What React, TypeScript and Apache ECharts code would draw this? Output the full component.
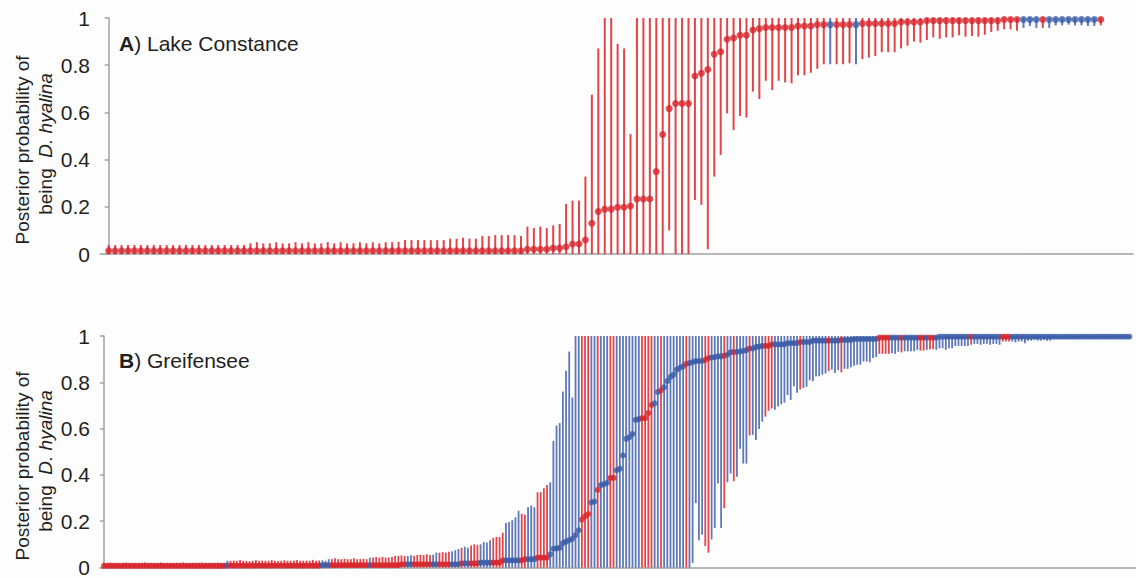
import React, { useEffect, useRef } from 'react';
import * as echarts from 'echarts';

// ---------- Panel A: Lake Constance (155 individuals) ----------
const aVal = [
  .014,.014,.014,.014,.014,.014,.014,.014,.014,.014,
  .014,.014,.014,.014,.014,.014,.014,.014,.014,.014,
  .014,.014,.014,.014,.014,.014,.014,.014,.014,.014,
  .014,.014,.014,.014,.014,.014,.014,.014,.014,.014,
  .014,.014,.014,.014,.014,
  .014,.014,.014,.014,.014,.014,.014,.014,.014,.014,
  .014,.014,.014,.014,.014,.014,.014,.014,.014,.014,
  .02,.02,.02,.02,.025,.025,.031,.042,.042,.059,
  .13,.18,.19,.19,.198,.198,.203,.233,.233,.233,
  .349,.506,.616,.638,.638,.638,.754,.766,.782,.846,
  .857,.91,.915,.927,.927,.949,.955,.96,.96,.96,
  .96,.96,.966,.966,.966,.972,.972,.972,.972,.972,
  .972,.972,.977,.977,.977,.977,.977,.977,.983,.983,
  .983,.983,.989,.989,.989,.989,.989,.989,.989,.989,
  .989,.989,.989,.989,.994,.994,.994,.994,.994,.994,
  .994,.994,.994,.994,.994,.994,.994,.994,.994,.994,
];
const aHigh = [
  .038,.038,.038,.038,.038,.038,.038,.038,.038,.038,
  .038,.038,.038,.038,.038,.038,.038,.038,.038,.038,
  .038,.038,
  .045,.05,.045,.045,.05,.045,.045,.05,.045,.05,
  .045,.045,.05,.045,.05,.045,.045,.05,.045,.05,
  .045,.05,.05,
  .052,.059,.059,.059,.059,.059,.059,.059,.065,.065,
  .069,.065,.065,.076,.076,.08,.08,.08,.08,.076,
  .116,.11,.116,.11,.121,.127,.212,.226,.226,.328,
  .675,.871,1,1,.89,.871,.508,1,1,1,
  1,1,1,1,1,1,1,1,1,1,
  1,1,1,1,1,1,1,1,1,1,
  1,1,1,1,1,1,1,1,1,1,
  1,1,1,1,1,1,1,1,1,1,
  1,1,1,1,1,1,1,1,1,1,
  1,1,1,1,1,1,1,1,1,1,
  1,1,1,1,1,1,1,1,1,1,
];
const aLow = [
  0,0,0,0,0,0,0,0,0,0,0,0,0,0,0,0,0,0,0,0,0,0,0,0,0,0,0,0,0,
  0,0,0,0,0,0,0,0,0,0,0,0,0,0,0,0,0,0,0,0,0,0,0,0,0,0,0,0,0,
  0,0,0,0,0,0,0,0,0,0,0,0,0,0,0,0,0,0,0,0,0,0,0,0,0,0,0,0,0,
  .1,0,0,0,.229,.208,.02,.328,
  .42,.596,.525,.585,.578,.688,.657,.734,.695,.734,
  .727,.723,.757,.757,.768,.785,.804,.804,.804,.804,
  .808,.804,.826,.832,.839,.855,.855,.855,.871,.883,
  .9,.895,.907,.918,.912,.918,.918,.927,.921,.924,
  .921,.929,.941,.946,.952,.952,.946,.958,.966,.958,
  .958,.958,.969,.969,.972,.969,.969,.966,.966,.969,
];
const aBlue = [112, 116, 142, 143, 144, 146, 147, 148, 149, 150, 151, 152, 153];

// ---------- Panel B: Greifensee (325 individuals) ----------
const bVal = [
  .007,.007,.007,.007,.007,.007,.007,.007,.007,.007,
  .007,.007,.007,.007,.007,.007,.007,.007,.007,.007,
  .007,.007,.007,.007,.007,.007,.007,.007,.007,.007,
  .007,.007,.007,.007,.007,.007,.007,.007,.007,
  .008,.008,.008,.008,.008,.008,.008,.008,.008,.008,
  .008,.008,.008,.008,.008,.008,.008,.008,.008,.008,
  .008,.008,.008,.008,.008,.008,.008,.008,.008,.008,
  .01,.01,.01,.01,.01,.01,.01,.01,.01,.01,
  .01,.01,.01,.01,.01,.01,.01,.01,.01,.01,
  .01,.01,.01,.01,.01,
  .014,.014,.014,.014,.014,.014,.014,.014,.014,.014,
  .014,.014,.014,.014,.014,.014,.014,.014,.014,
  .018,.018,.018,.018,.018,.018,
  .021,.021,.021,.021,.021,.021,.021,
  .031,.031,.031,.031,.031,.031,.031,
  .036,.036,.036,.036,
  .043,.043,.043,.043,
  .057,.081,.083,.085,.105,.112,.118,.124,.14,.161,
  .207,.221,.231,.281,.285,.335,.356,.36,.366,.387,
  .387,.42,.427,.484,.556,.563,.577,.638,.641,.645,
  .645,.667,.702,.709,.758,.765,.779,.805,.823,.833,
  .855,.862,.869,.88,.883,.887,.892,.892,.892,.897,
  .905,.907,.909,.912,.912,.915,.919,.93,.93,.932,
  .933,.936,.939,.946,.946,.952,.954,
  .957,.957,.957,
  .964,.964,.964,.964,.964,
  .969,.969,.969,.969,
  .974,.974,.974,.974,
  .98,.98,.98,.98,.98,.98,.98,.98,.98,
  .983,.983,.983,.983,
  .987,.987,.987,.987,.987,.987,.987,.987,
  .993,.993,.993,.993,.993,.993,.993,.993,.993,.993,
  .993,.993,.993,.993,.993,.993,.993,.993,.993,
  .997,.997,.997,.997,.997,.997,.997,.997,.997,.997,
  .997,.997,.997,.997,.997,.997,.997,.997,.997,.997,
  .997,.997,.997,.997,.997,.997,.997,.997,.997,.997,
  .997,.997,.997,.997,.997,.997,.997,.997,.997,.997,
  .997,.997,.997,.997,.997,.997,.997,.997,.997,.997,
  .997,.997,.997,.997,.997,.997,.997,.997,.997,.997,
  .997,
];
const bHigh = [
  .02,.02,.022,.02,.02,.018,.02,.022,.02,.02,
  .02,.02,.02,.022,.02,.02,.02,.02,.022,.02,
  .02,.02,.02,.02,.02,.022,.02,.02,.02,.02,
  .02,.022,.02,.02,.02,.02,.022,.02,.02,
  .029,.029,.03,.029,.032,.029,.029,.027,.029,.032,
  .029,.03,.029,.029,.032,.029,.027,.029,.031,.029,
  .029,.03,.032,.029,.029,.03,.029,.033,.029,.03,.031,.029,
  .036,.036,.04,.036,.036,.038,.036,.036,.04,.036,.036,.038,.036,
  .043,.043,.045,.043,.046,.043,.043,.045,
  .05,.05,.052,.05,.05,.053,.05,
  .054,.055,.054,.057,.054,.055,
  .064,.064,.066,.064,.068,
  .07,.075,.08,.085,.09,.085,.095,.1,.098,
  .1,.11,.108,.118,.128,.132,.132,.15,.192,.197,
  .204,.217,.245,.232,.228,.26,.268,.26,.325,.325,
  .342,.356,.368,.547,.613,.624,.76,.85,.933,.734,
  1,1,1,1,1,1,1,1,1,1,1,1,1,1,1,1,
  1,1,1,1,1,1,1,1,1,1,1,1,1,1,1,1,
  1,1,1,1,1,1,1,1,1,1,1,1,1,1,1,1,
  1,1,1,1,1,1,1,1,1,1,1,1,1,1,1,1,
  1,1,1,1,1,1,1,1,1,1,1,1,1,1,1,1,
  1,1,1,1,1,1,1,1,1,1,1,1,1,1,1,1,
  1,1,1,1,1,1,1,1,1,1,1,1,1,1,1,1,
  1,1,1,1,1,1,1,1,1,1,1,1,1,1,1,1,
  1,1,1,1,1,1,1,1,1,1,1,1,1,1,1,1,
  1,1,1,1,1,1,1,1,1,1,1,1,1,1,1,1,
  1,1,1,1,1,1,1,1,1,1,1,1,1,1,1,1,
];
const bLow = [
  0,0,0,0,0,0,0,0,0,0,0,0,0,0,0,0,0,0,0,0,0,0,0,0,0,0,0,0,0,0,0,
  0,0,0,0,0,0,0,0,0,0,0,0,0,0,0,0,0,0,0,0,0,0,0,0,0,0,0,0,0,0,0,
  0,0,0,0,0,0,0,0,0,0,0,0,0,0,0,0,0,0,0,0,0,0,0,0,0,0,0,0,0,0,0,
  0,0,0,0,0,0,0,0,0,0,0,0,0,0,0,0,0,0,0,0,0,0,0,0,0,0,0,0,0,0,0,
  0,0,0,0,0,0,0,0,0,0,0,0,0,0,0,0,0,0,0,0,0,0,0,0,0,0,0,0,0,0,0,
  0,0,0,0,0,0,0,0,0,0,0,0,0,0,0,0,0,0,0,0,0,0,0,0,0,0,0,0,0,0,0,
  .02,.278,.118,.142,.093,.064,.121,.171,.363,.171,
  .256,.368,.406,.373,.392,.513,.449,.449,.57,.573,
  .551,.598,.63,.652,.677,.687,.681,.695,.705,.712,
  .745,.724,.783,.755,.769,.776,.781,.809,.805,.826,
  .826,.833,.838,.848,.855,.84,.852,.843,.858,.858,
  .865,.872,.876,.876,.89,.89,.887,.905,.909,.923,
  .923,.923,.923,.926,.923,.932,.929,.934,.934,.934,
  .934,.94,.937,.937,.94,.943,.943,.94,.947,.947,
  .94,.947,.947,.957,.957,.957,.957,.957,.962,.966,
  .966,.962,.966,.966,.962,.966,.966,.962,.976,.976,
  .976,.976,.972,.976,.976,.969,.98,.98,.984,.98,
  .98,.984,.98,.98,.99,.988,.99,.99,.988,.99,
  .99,.988,.99,.99,.992,.99,.988,.99,.99,.992,
  .99,.988,.99,.99,.992,.99,.99,.988,.99,
];
const bBlueRanges = [
  [39, 39], [69, 71], [84, 84], [96, 97], [104, 105], [110, 112], [114, 115],
  [119, 122], [127, 131], [134, 136], [141, 150], [154, 155], [157, 159],
  [162, 169], [174, 175], [177, 183], [185, 189], [192, 195], [197, 198],
  [200, 203], [205, 208], [212, 219], [221, 228], [230, 232], [234, 244],
  [249, 251], [253, 257], [260, 260], [263, 273], [275, 283], [287, 324],
];

const yTicks = [0, 0.2, 0.4, 0.6, 0.8, 1];

const FONT = 'Arial, "Liberation Sans", Helvetica, sans-serif';
const TXT = '#231f20';
const AXIS = '#a0a0a0';
const DOT_RED = '#d7242b';
const DOT_BLUE = '#3a5ba6';
const BAR_RED = 'rgba(220,36,42,0.85)';
const BAR_BLUE = 'rgba(58,90,166,0.82)';

function isBlueB(i: number) {
  return bBlueRanges.some(([a, b]) => i >= a && i <= b);
}

function barSeries(vals: number[], lows: number[], highs: number[], blue: (i: number) => boolean, idx: number, w: number) {
  return {
    type: 'custom',
    xAxisIndex: idx,
    yAxisIndex: idx,
    clip: false,
    z: 2,
    encode: { x: 0, y: [1, 2] },
    data: vals.map((_, i) => [i, lows[i], highs[i], blue(i) ? 1 : 0]),
    renderItem: (params: any, api: any) => {
      const x = api.value(0);
      const p1 = api.coord([x, api.value(1)]);
      const p2 = api.coord([x, api.value(2)]);
      const b = api.value(3) === 1;
      return {
        type: 'line',
        shape: { x1: p1[0], y1: p1[1], x2: p2[0], y2: p2[1] },
        style: { stroke: b ? BAR_BLUE : BAR_RED, lineWidth: w },
      };
    },
  };
}

function dotSeries(vals: number[], blue: (i: number) => boolean, idx: number, size: number) {
  return {
    type: 'scatter',
    xAxisIndex: idx,
    yAxisIndex: idx,
    clip: false,
    z: 3,
    symbolSize: size,
    data: vals.map((v, i) => ({ value: [i, v], itemStyle: { color: blue(i) ? DOT_BLUE : DOT_RED } })),
  };
}

function yAxis(idx: number) {
  return {
    type: 'value',
    gridIndex: idx,
    min: yTicks[0],
    max: yTicks[yTicks.length - 1],
    interval: 0.2,
    axisLine: { show: true, lineStyle: { color: AXIS, width: 1.5 } },
    axisTick: { show: true, length: 4, lineStyle: { color: AXIS, width: 1.5 } },
    splitLine: { show: false },
    axisLabel: {
      fontSize: 21,
      fontFamily: FONT,
      color: TXT,
      margin: 10,
      formatter: (v: number) => (v === 0 ? '0' : v === 1 ? '1' : v.toFixed(1)),
    },
  };
}

function xAxis(idx: number, min: number, max: number) {
  return {
    type: 'value',
    gridIndex: idx,
    min,
    max,
    axisLine: { show: true, lineStyle: { color: AXIS, width: 1.5 } },
    axisTick: { show: false },
    axisLabel: { show: false },
    splitLine: { show: false },
  };
}

function yTitle(cx1: number, cy1: number, cx2: number, cy2: number) {
  return [
    {
      type: 'text', x: cx1, y: cy1, rotation: Math.PI / 2,
      style: { text: 'Posterior probability of', fontSize: 19, fontFamily: FONT, fill: TXT, align: 'center', verticalAlign: 'middle' },
    },
    {
      type: 'text', x: cx2, y: cy2, rotation: Math.PI / 2,
      style: {
        text: '{n|being  }{i|D. hyalina}',
        fontSize: 19, fontFamily: FONT, fill: TXT, align: 'center', verticalAlign: 'middle',
        rich: {
          n: { fontSize: 19, fontFamily: FONT, fill: TXT },
          i: { fontSize: 19, fontFamily: FONT, fontStyle: 'italic', fill: TXT },
        },
      },
    },
  ];
}

function panelTitle(letter: string, name: string, x: number, y: number) {
  return {
    type: 'text', x, y,
    style: {
      text: `{b|${letter}}{n|) ${name}}`,
      fontSize: 21, fontFamily: FONT, fill: TXT, align: 'left', verticalAlign: 'middle',
      rich: {
        b: { fontSize: 21, fontFamily: FONT, fontWeight: 'bold', fill: TXT },
        n: { fontSize: 21, fontFamily: FONT, fill: TXT },
      },
    },
  };
}

export default function App() {
  const ref = useRef<HTMLDivElement>(null);
  useEffect(() => {
    if (!ref.current) return;
    const chart = echarts.init(ref.current, null, { renderer: 'svg' });
    const aBlueFn = (i: number) => aBlue.includes(i);
    chart.setOption({
      animation: false,
      backgroundColor: '#fdfdfd',
      grid: [
        { left: 100, right: 3, top: 18, bottom: 324 },
        { left: 100, right: 0, top: 336, bottom: 8 },
      ],
      xAxis: [xAxis(0, -1.35, 159), xAxis(1, -1.26, 326.1)],
      yAxis: [yAxis(0), yAxis(1)],
      series: [
        barSeries(aVal, aLow, aHigh, aBlueFn, 0, 2),
        dotSeries(aVal, aBlueFn, 0, 7),
        barSeries(bVal, bLow, bHigh, isBlueB, 1, 1.8),
        dotSeries(bVal, isBlueB, 1, 6),
      ],
      graphic: [
        ...yTitle(22, 150, 45, 144),
        ...yTitle(22, 466, 45, 461),
        panelTitle('A', 'Lake Constance', 119, 43),
        panelTitle('B', 'Greifensee', 119, 360),
      ],
    });
    return () => chart.dispose();
  }, []);
  return (
    <div
      ref={ref}
      style={{ position: 'fixed', left: 0, top: 0, width: 1136, height: 578, background: '#fdfdfd' }}
    />
  );
}
